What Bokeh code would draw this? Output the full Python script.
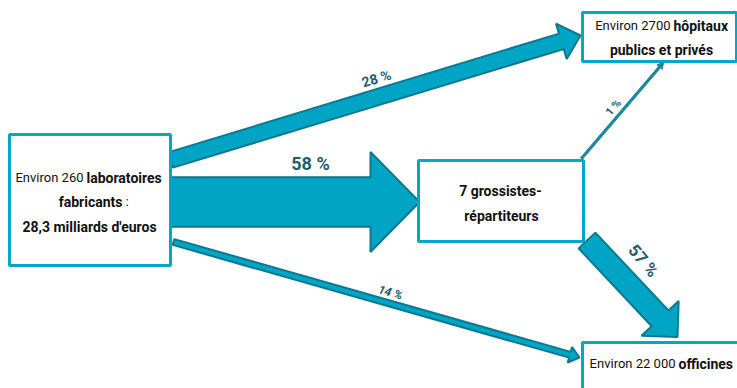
import math
from bokeh.plotting import figure
from bokeh.models import Range1d
from bokeh.core.properties import value
from bokeh.embed import file_html
from bokeh.resources import INLINE

# ---- data ----
flow_labels = ["28 %", "58 %", "14 %", "57 %", "1 %"]
flow_shares = [28, 58, 14, 57, 1]

# nodes: text lines of each box (normal part, bold part)
lab_lines = [("Environ 260", "laboratoires"), ("", "fabricants"), ("", "28,3 milliards d'euros")]
hop_lines = [("Environ 2700", "hôpitaux"), ("", "publics et privés")]
gro_lines = [("", "7 grossistes-"), ("", "répartiteurs")]
off_lines = [("Environ 22 000", "officines")]

# ---- layout (pixel space of the picture) ----
FONT = value("Roboto")
BOX_COL = "#00A7C6"
ARROW_FILL = "#00A5C5"
ARROW_LINE = "#0B7891"
LABEL_COL = "#1B5E70"

boxes = {  # x0, y0, x1, y1
    "lab": (9, 134, 170, 265),
    "hop": (582, 12, 736, 61),
    "gro": (418, 160, 583, 241),
    "off": (582, 342, 740, 395),
}

# arrows: tail(x,y), tip(x,y), shaft half width, head half width, head length
arrows = [
    ((170, 159.5), (580, 35), 8, 18.5, 20),
    ((170, 201.5), (419, 201.5), 24.7, 50, 49),
    ((173, 241.5), (579, 357), 3, 8, 10),
    ((586.5, 240), (677, 336.5), 11.5, 25.5, 25.5),
]
one_pct_line = ((581, 158), (663, 62))

label_pos = [(376, 78, 16.7, 14, "bold"), (310, 163, 0, 18, "bold"),
             (390, 292, -15.8, 12, "bold italic"), (643, 260, -50, 17, "bold"),
             (613, 107, 49.5, 11, "bold")]


def arrow_poly(tail, tip, w, h, L):
    tx, ty = tail
    px, py = tip
    dx, dy = px - tx, py - ty
    n = math.hypot(dx, dy)
    ux, uy = dx / n, dy / n
    vx, vy = -uy, ux
    bx, by = px - ux * L, py - uy * L
    xs = [tx + vx * w, bx + vx * w, bx + vx * h, px, bx - vx * h, bx - vx * w, tx - vx * w]
    ys = [ty + vy * w, by + vy * w, by + vy * h, py, by - vy * h, by - vy * w, ty - vy * w]
    return xs, ys


p = figure(width=737, height=388, output_backend="svg", toolbar_location=None,
           x_range=Range1d(0, 737), y_range=Range1d(388, 0), min_border=0)
p.axis.visible = False
p.grid.visible = False
p.outline_line_color = None
p.background_fill_color = "white"

# arrows
axs, ays = [], []
for tail, tip, w, h, L in arrows:
    xs, ys = arrow_poly(tail, tip, w, h, L)
    axs.append(xs)
    ays.append(ys)
p.patches(axs, ays, fill_color=ARROW_FILL, line_color=ARROW_LINE, line_width=2)

# 1 % thin arrow
xs, ys = arrow_poly(one_pct_line[0], one_pct_line[1], 1.2, 3.5, 6)
p.patch(xs, ys, fill_color="#1A87A1", line_color="#1A87A1", line_width=1)

# boxes
for k, (x0, y0, x1, y1) in boxes.items():
    p.quad(left=[x0], right=[x1], top=[y0], bottom=[y1], fill_color="white",
           line_color=BOX_COL, line_width=3)

# flow labels
for (x, y, ang, fs, style), t in zip(label_pos, flow_labels):
    p.text([x], [y], text=[t], angle=ang, angle_units="deg", text_font=FONT,
           text_font_size=f"{fs}px", text_font_style=style, text_color=LABEL_COL,
           text_align="center", text_baseline="middle")


def put(x, y, t, style, align):
    if not t:
        return
    size = 14 if style == "bold" else 13
    p.text([x], [y], text=[t], text_font=FONT, text_font_size=f"{size}px",
           text_font_style=style, text_color="#111111", text_align=align,
           text_baseline="middle")


# laboratoires box
put(83, 177, lab_lines[0][0], "normal", "right")
put(86, 177, lab_lines[0][1], "bold", "left")
put(122, 201, lab_lines[1][1], "bold", "right")
put(125, 201, ":", "normal", "left")
put(89, 226, lab_lines[2][1], "bold", "center")

# hopitaux box
put(670, 25, hop_lines[0][0], "normal", "right")
put(673, 25, hop_lines[0][1], "bold", "left")
put(661, 49, hop_lines[1][1], "bold", "center")

# grossistes box
put(500, 190, gro_lines[0][1], "bold", "center")
put(501, 215, gro_lines[1][1], "bold", "center")

# officines box
put(675, 363, off_lines[0][0], "normal", "right")
put(678, 363, off_lines[0][1], "bold", "left")

open("out.html", "w").write(file_html(p, INLINE))
